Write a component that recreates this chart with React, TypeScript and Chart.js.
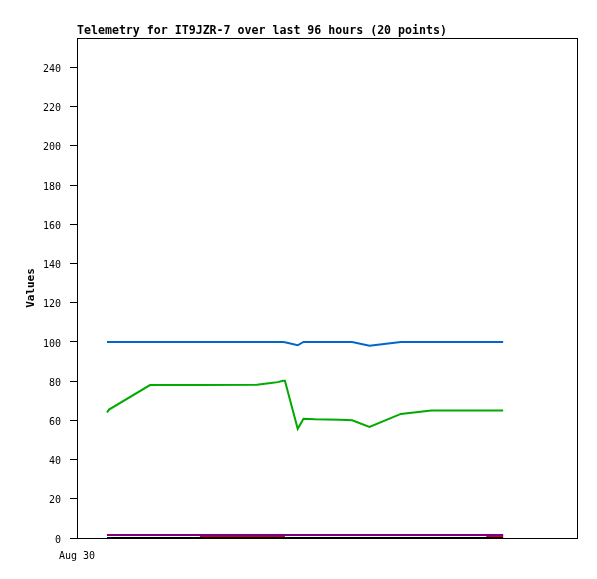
import React, { useEffect, useRef } from "react";
import { Chart, registerables } from "chart.js";

Chart.register(...registerables);

const TITLE = "Telemetry for IT9JZR-7 over last 96 hours (20 points)";
const X_TICK_LABEL = "Aug 30";
const Y_TITLE = "Values";

// hours since Aug 30 00:00
const hours = [7.27, 7.76, 17.7, 29.8, 43.6, 47.0, 48.7, 49.9, 50.4, 53.5, 54.9, 57.7, 63.8, 66.7, 70.9, 78.5, 85.9, 94.5, 99.2, 103.3];
const blueValues = [100, 100, 100, 100, 100, 100, 100, 100, 99.8, 98.3, 100, 100, 100, 100, 98.1, 100, 100, 100, 100, 100];
const greenValues = [64, 65.5, 78, 78, 78.2, 79, 79.5, 80.2, 80.2, 55.7, 60.8, 60.5, 60.3, 60, 56.6, 63.3, 65, 65, 65, 65];
const purpleValues = [1.5, 1.5, 1.5, 1.5, 1.5, 1.5, 1.5, 1.5, 1.5, 1.5, 1.5, 1.5, 1.5, 1.5, 1.5, 1.5, 1.5, 1.5, 1.5, 1.5];
const redValues = [null, null, null, 1, 1, 1, 1, 1, 1, null, null, null, null, null, null, null, null, null, 1, 1];
const blackValues = [0, 0, 0, 0, 0, 0, 0, 0, 0, 0, 0, 0, 0, 0, 0, 0, 0, 0, 0, 0];

const X_MIN = 0;
const X_MAX = 121.2;
const Y_MIN = 0;
const Y_MAX = 255;
const Y_STEP = 20;

const toPoints = (vals: (number | null)[]) => hours.map((h, i) => ({ x: h, y: vals[i] }));

const framePlugin = {
  id: "frameAndTitle",
  afterDraw(chart: any) {
    const { ctx, chartArea } = chart;
    ctx.save();
    ctx.strokeStyle = "#000";
    ctx.lineWidth = 1;
    ctx.strokeRect(Math.round(chartArea.left) + 0.5, Math.round(chartArea.top) + 0.5, Math.round(chartArea.right - chartArea.left), Math.round(chartArea.bottom - chartArea.top));
    ctx.fillStyle = "#000";
    ctx.font = "bold 11.6px 'DejaVu Sans Mono'";
    ctx.textAlign = "left";
    ctx.textBaseline = "alphabetic";
    ctx.fillText(TITLE, chartArea.left, 34);
    ctx.restore();
  },
};

export default function App() {
  const ref = useRef<HTMLCanvasElement | null>(null);
  useEffect(() => {
    if (!ref.current) return;
    const mk = (vals: (number | null)[], color: string, order: number) => ({
      data: toPoints(vals),
      borderColor: color,
      backgroundColor: color,
      borderWidth: 2,
      pointRadius: 0,
      tension: 0,
      fill: false,
      order,
    });
    const chart = new Chart(ref.current, {
      type: "line",
      data: {
        datasets: [
          mk(purpleValues, "#800080", 0),
          mk(blackValues, "#000000", 1),
          mk(redValues, "#cc0033", 2),
          mk(greenValues, "#00aa00", 3),
          mk(blueValues, "#0066cc", 4),
        ],
      },
      options: {
        animation: false,
        responsive: false,
        layout: { padding: { top: 38, right: 20, left: 0, bottom: 0 } },
        plugins: { legend: { display: false }, title: { display: false }, tooltip: { enabled: false } },
        scales: {
          x: {
            type: "linear",
            min: X_MIN,
            max: X_MAX,
            afterBuildTicks: (s: any) => {
              s.ticks = [{ value: X_MIN }];
            },
            afterFit: (s: any) => {
              s.height = 41;
            },
            grid: { display: false },
            border: { display: true, color: "#000", width: 1 },
            ticks: {
              callback: (v: any) => (v === X_MIN ? X_TICK_LABEL : ""),
              font: { family: "'DejaVu Sans Mono'", size: 10 },
              color: "#000",
              padding: 4,
              maxRotation: 0,
              autoSkip: false,
            },
          },
          y: {
            type: "linear",
            min: Y_MIN,
            max: Y_MAX,
            afterBuildTicks: (s: any) => {
              const t = [];
              for (let v = Y_MIN; v <= Y_MAX; v += Y_STEP) t.push({ value: v });
              s.ticks = t;
            },
            afterFit: (s: any) => {
              s.width = 77;
            },
            grid: { display: true, drawOnChartArea: false, drawTicks: true, tickLength: 7, color: "#000", lineWidth: 1 },
            border: { display: true, color: "#000", width: 1 },
            ticks: {
              font: { family: "'DejaVu Sans Mono'", size: 10 },
              color: "#000",
              padding: 9,
              labelOffset: 2,
            },
            title: {
              display: true,
              text: Y_TITLE,
              color: "#000",
              font: { family: "'DejaVu Sans Mono'", size: 11, weight: "bold" },
              padding: { top: 25, bottom: 0 },
            },
          },
        },
      },
      plugins: [framePlugin],
    });
    return () => chart.destroy();
  }, []);
  return (
    <div style={{ position: "absolute", left: 0, top: 0, width: 597, height: 579, background: "#fff" }}>
      <canvas ref={ref} width={597} height={579} style={{ display: "block" }} />
    </div>
  );
}
